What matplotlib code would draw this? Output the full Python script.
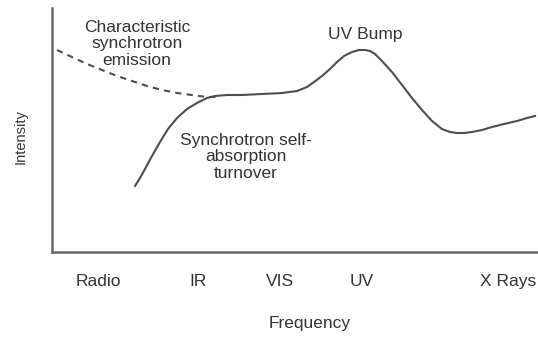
import matplotlib.pyplot as plt

plt.rcParams['font.family'] = ['Liberation Sans', 'DejaVu Sans']

# spectrum sketch (frequency vs intensity, arbitrary units)
freq = [83, 88, 93, 100, 108, 116, 125, 135, 145, 155, 163, 175, 190, 210, 230, 245,
        255, 262, 270, 278, 285, 292, 300, 307, 313, 318, 323, 330, 340, 350, 360,
        370, 380, 390, 398, 405, 412, 420, 430, 440, 452, 465, 475, 483]
intensity = [66, 74, 83, 96, 110, 123, 134, 143, 149, 154, 156, 157, 157, 158, 159, 161,
             165, 170, 176, 183, 190, 196, 200, 202, 202, 201, 198, 191, 180, 167, 154,
             142, 131, 123, 120, 119, 119, 120, 122, 125, 128, 131, 134, 136]

# dashed extrapolation of the pure synchrotron power law
dash_freq = [5, 20, 35, 50, 65, 80, 95, 110, 125, 140, 155, 165]
dash_int = [202, 195, 188, 182, 176, 171, 166, 162, 159, 157, 155, 155]

bands = ["Radio", "IR", "VIS", "UV", "X Rays"]
band_pos = [46, 146, 228, 310, 456]

gray = "#4d4d4d"
txt = "#333333"
fig = plt.figure(figsize=(5.38, 3.38), dpi=100)
ax = fig.add_axes([52/538, 86/338, 486/538, 244/338])

ax.plot(freq, intensity, color=gray, lw=1.5)
ax.plot(dash_freq, dash_int, color=gray, lw=1.5, ls=(0, (3, 2.5)))

ax.set_xlim(0, 486)
ax.set_ylim(0, 244)
ax.spines["top"].set_visible(False)
ax.spines["right"].set_visible(False)
for s in ["left", "bottom"]:
    ax.spines[s].set_color("#666666")
    ax.spines[s].set_linewidth(1.8)

ax.set_xticks(band_pos)
ax.set_xticklabels(bands, fontsize=12.5, color=txt)
ax.tick_params(axis="x", length=0, pad=16)
ax.set_yticks([])
ax.set_xlabel("Frequency", fontsize=12.5, color=txt)
ax.xaxis.set_label_coords(258/486, -64/244)
ax.set_ylabel("Intensity", fontsize=10.5, color=txt)
ax.yaxis.set_label_coords(-24/486, 115/244)

ax.text(85, 208, "Characteristic\nsynchrotron\nemission", ha="center", va="center",
        fontsize=12.5, color=txt, linespacing=1.15)
ax.text(313, 217, "UV Bump", ha="center", va="center", fontsize=12.5, color=txt)
ax.text(194, 95, "Synchrotron self-\nabsorption\nturnover", ha="center", va="center",
        fontsize=12.5, color=txt, linespacing=1.15)

fig.savefig("out.png", dpi=100)
